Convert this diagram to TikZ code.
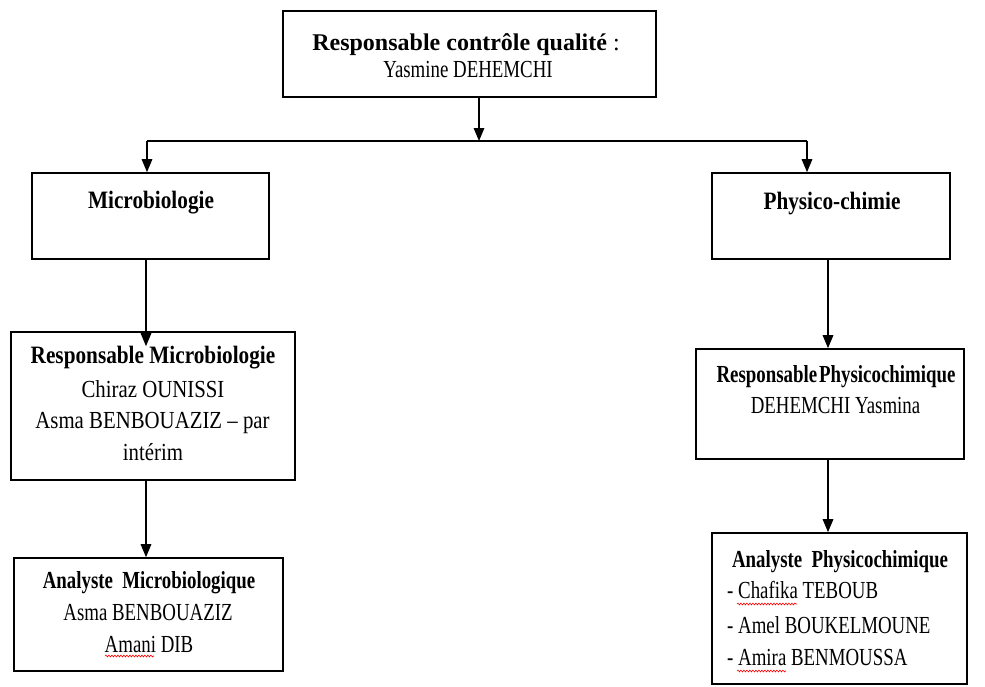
\documentclass[tikz,border=0pt]{standalone}
\usepackage{fontspec}
\setmainfont{Liberation Serif}
\newfontfamily\narrowserif[FakeStretch=0.85]{Liberation Serif}
\newfontfamily\tightserif[FakeStretch=0.77]{Liberation Serif}
\usetikzlibrary{arrows.meta,decorations.pathmorphing}

\begin{document}
\begin{tikzpicture}[x=1pt,y=-1pt,
  box/.style={draw=black,line width=1.6pt,inner sep=0pt,fill=white},
  link/.style={line width=1.5pt},
  arr/.style={line width=1.5pt,-{Triangle[length=13pt,width=10.5pt]}},
  txt/.style={anchor=base,inner sep=0pt},
  titlefont/.style={font=\bfseries\fontsize{24}{24}\selectfont},
  bigbold/.style={font=\narrowserif\bfseries\fontsize{25}{25}\selectfont},
  smallbold/.style={font=\tightserif\bfseries\fontsize{24.5}{24.5}\selectfont},
  bigbody/.style={font=\narrowserif\fontsize{24.5}{24.5}\selectfont},
  body/.style={font=\tightserif\fontsize{24.5}{24.5}\selectfont},
  squig/.style={red,line width=0.6pt,decorate,decoration={snake,amplitude=0.9pt,segment length=3pt}}
]
% canvas
\path[fill=white] (0,0) rectangle (985,686);

% boxes
\node[box,minimum width=373pt,minimum height=86pt] (qc) at (469.5,54) {};
\node[box,minimum width=237pt,minimum height=86pt] (mb) at (150.5,216) {};
\node[box,minimum width=238pt,minimum height=86pt] (pc) at (831,216) {};
\node[box,minimum width=284pt,minimum height=148pt] (rm) at (153,406) {};
\node[box,minimum width=269pt,minimum height=113pt] (am) at (148.5,614.5) {};
\node[box,minimum width=268pt,minimum height=110pt] (rp) at (830,404) {};
\node[box,minimum width=255pt,minimum height=151pt] (ap) at (839.5,608.5) {};

% texts
\node[txt,titlefont] (qct) at (466,50) {Responsable contrôle qualité \mdseries:};
\node[txt,body] (qcn) at (468,77) {Yasmine DEHEMCHI};

\node[txt,bigbold] (mbt) at (151,208) {Microbiologie};
\node[txt,bigbold] (pct) at (832,209) {Physico-chimie};

\node[txt,bigbold] (rm1) at (153,363) {Responsable Microbiologie};
\node[txt,bigbody] (rm2) at (153,397) {Chiraz OUNISSI};
\node[txt,bigbody] (rm3) at (152.5,428) {Asma BENBOUAZIZ – par};
\node[txt,bigbody] (rm4) at (153,460) {intérim};

\node[txt,smallbold] (am1) at (149,588) {Analyste\ \ Microbiologique};
\node[txt,body] (am2) at (148,620) {Asma BENBOUAZIZ};
\node[txt,body] (am3) at (149,652) {Amani DIB};

\node[txt,smallbold] (rp1) at (836,382) {Responsable\hspace{2pt}Physicochimique};
\node[txt,body] (rp2) at (835.5,413) {DEHEMCHI Yasmina};

\node[txt,smallbold] (ap1) at (840,567) {Analyste\ \ Physicochimique};
\node[txt,body,anchor=base west] (ap2) at (727,598) {- Chafika TEBOUB};
\node[txt,body,anchor=base west] (ap3) at (727,633) {- Amel BOUKELMOUNE};
\node[txt,body,anchor=base west] (ap4) at (727,665) {- Amira BENMOUSSA};

% spelling marks
\draw[squig] (105,656) -- (154,656);
\draw[squig] (737,604) -- (797,604);
\draw[squig] (737,671) -- (786,671);

% connectors
\coordinate (j0) at (479,141);
\coordinate (jl) at (147,141);
\coordinate (jr) at (807,141);
\draw[arr] (j0 |- qc.south) -- (j0);
\draw[link] (jl) -- (jr);
\draw[arr] (jl) -- (jl |- mb.north);
\draw[arr] (jr) -- (jr |- pc.north);

\coordinate (lx) at (146,0);
\coordinate (rx) at (828,0);
\draw[arr] (lx |- mb.south) -- ([yshift=-15pt]lx |- rm.north);
\draw[arr] (lx |- rm.south) -- (lx |- am.north);
\draw[arr] (rx |- pc.south) -- (rx |- rp.north);
\draw[arr] (rx |- rp.south) -- (rx |- ap.north);
\end{tikzpicture}
\end{document}
